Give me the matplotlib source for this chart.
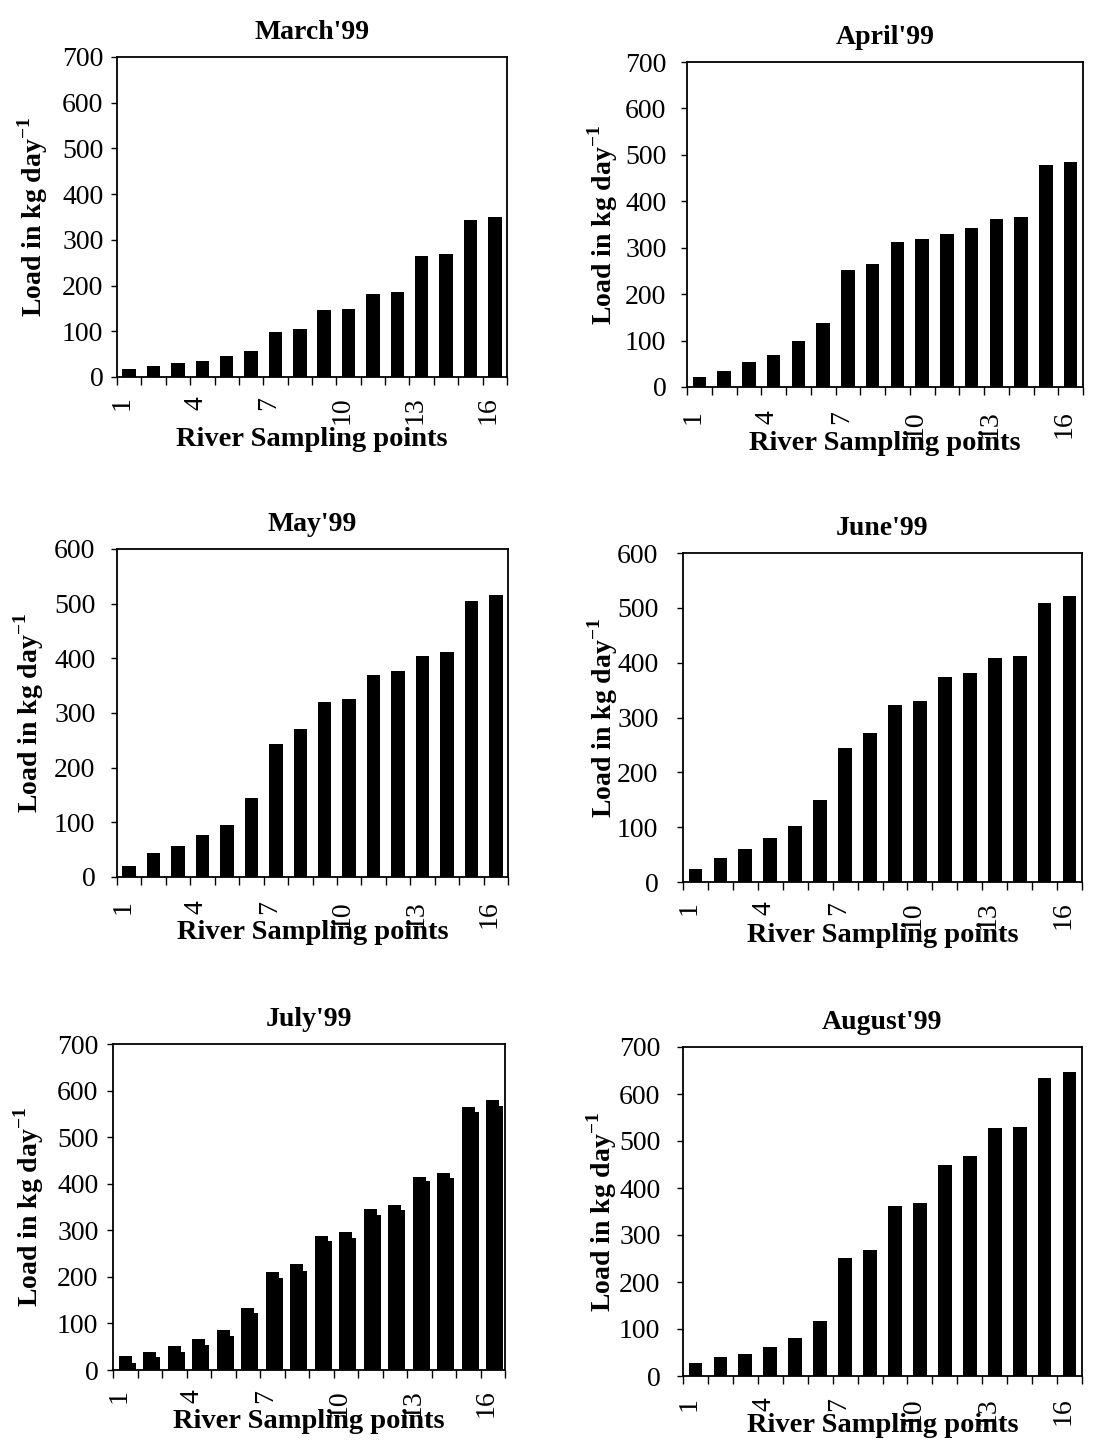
import matplotlib
matplotlib.use("Agg")
import matplotlib.pyplot as plt
import numpy as np

plt.rcParams["font.family"] = ["Liberation Serif", "DejaVu Serif"]
plt.rcParams["mathtext.fontset"] = "custom"
plt.rcParams["mathtext.rm"] = "Liberation Serif"
plt.rcParams["mathtext.bf"] = "Liberation Serif:bold"

# river sampling points and monthly loads (kg/day)
points = np.arange(1, 17)
tick_points = [1, 4, 7, 10, 13, 16]

march = [18, 24, 31, 35, 45, 57, 98, 104, 146, 149, 181, 186, 264, 268, 343, 349]
april = [22, 34, 54, 70, 100, 138, 251, 266, 312, 318, 330, 342, 362, 367, 479, 485]
may = [21, 43, 56, 76, 96, 145, 244, 271, 321, 326, 369, 377, 405, 411, 504, 515]
june = [24, 44, 60, 80, 102, 149, 245, 272, 323, 330, 373, 382, 408, 412, 508, 521]
july = [29, 38, 52, 66, 85, 133, 210, 228, 287, 297, 346, 355, 415, 424, 564, 579]
july_b = [16, 27, 39, 54, 73, 122, 198, 213, 276, 284, 333, 344, 405, 413, 553, 567]
august = [28, 40, 47, 61, 80, 118, 252, 268, 361, 369, 449, 468, 527, 530, 635, 646]

titles = ["March'99", "April'99", "May'99", "June'99", "July'99", "August'99"]
series = [march, april, may, june, july, august]
second = [None, None, None, None, july_b, None]
ymax = [700, 700, 600, 600, 700, 700]

W, H = 1103, 1446
fig = plt.figure(figsize=(W / 100, H / 100), dpi=100)

# panel boxes in pixels: left, top, right, bottom
boxes = [(117, 57, 507, 377), (687, 62, 1083, 387),
         (117, 549, 508, 877), (683, 553, 1082, 882),
         (113, 1044, 505, 1370), (683, 1047, 1082, 1376)]
xlab_drop = [62, 56, 56, 53, 52, 49]
ylab_left = [84, 84, 88, 80, 84, 81]
ytick_gap = [12, 19, 20, 23, 13, 21]
xtick_gap = [19, 23, 23, 19, 19, 21]

for i in range(6):
    l, t, r, b = boxes[i]
    wpx, hpx = r - l, b - t
    ax = fig.add_axes([l / W, 1 - b / H, wpx / W, hpx / H])

    if second[i] is not None:
        ax.bar(points + 0.17, second[i], width=0.52, color="black")
        ax.bar(points, series[i], width=0.52, color="black")
    else:
        ax.bar(points, series[i], width=0.55, color="black")

    ax.set_xlim(0.5, 16.5)
    ax.set_ylim(0, ymax[i])
    ax.set_yticks(range(0, ymax[i] + 1, 100))

    ax.set_xticks([p - 0.27 for p in tick_points])
    ax.set_xticklabels([str(p) for p in tick_points], rotation=90, va="top", fontsize=20)
    ax.set_xticks(np.arange(0.5, 17, 1), minor=True)
    ax.tick_params(axis="x", which="major", length=0, pad=xtick_gap[i] / 1.389)
    ax.tick_params(axis="x", which="minor", length=6, width=1, direction="out")
    ax.tick_params(axis="y", length=4, width=1, direction="out",
                   pad=(ytick_gap[i] - 4) / 1.389, labelsize=20)

    for s in ax.spines.values():
        s.set_linewidth(1.3)
        s.set_color("black")

    ax.set_title(titles[i], fontsize=20, fontweight="bold", pad=13)
    ax.set_xlabel("River Sampling points", fontsize=20.5, fontweight="bold")
    ax.xaxis.set_label_coords(0.5, -xlab_drop[i] / hpx)
    ax.xaxis.label.set_va("center")
    ax.set_ylabel(r"Load in kg day$^{\mathbf{-1}}$", fontsize=20, fontweight="bold")
    ax.yaxis.set_label_coords(-ylab_left[i] / wpx, 0.5)
    ax.yaxis.label.set_va("center")

fig.savefig("out.png", dpi=100, facecolor="white")
